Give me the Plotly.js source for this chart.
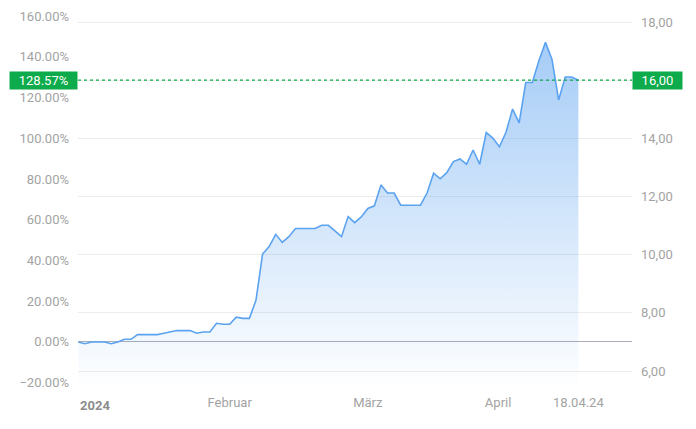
<!DOCTYPE html>
<html><head><meta charset="utf-8">
<script src="https://cdn.plot.ly/plotly-3.0.1.min.js"></script>
<style>html,body{margin:0;padding:0;background:#fff}#chart{width:696px;height:429px}</style>
</head><body><div id="chart"></div>
<script>
// Trading days shown on the chart
const tradingDates = [
  '2024-01-01','2024-01-02','2024-01-03','2024-01-04','2024-01-05','2024-01-08','2024-01-09','2024-01-10','2024-01-11','2024-01-12',
  '2024-01-15','2024-01-16','2024-01-17','2024-01-18','2024-01-19','2024-01-22','2024-01-23','2024-01-24','2024-01-25','2024-01-26',
  '2024-01-29','2024-01-30','2024-01-31',
  '2024-02-01','2024-02-02','2024-02-05','2024-02-06','2024-02-07','2024-02-08','2024-02-09','2024-02-12','2024-02-13','2024-02-14',
  '2024-02-15','2024-02-16','2024-02-19','2024-02-20','2024-02-21','2024-02-22','2024-02-23','2024-02-26','2024-02-27','2024-02-28','2024-02-29',
  '2024-03-01','2024-03-04','2024-03-05','2024-03-06','2024-03-07','2024-03-08','2024-03-11','2024-03-12','2024-03-13','2024-03-14',
  '2024-03-15','2024-03-18','2024-03-19','2024-03-20','2024-03-21','2024-03-22','2024-03-25','2024-03-26','2024-03-27','2024-03-28',
  '2024-04-02','2024-04-03','2024-04-04','2024-04-05','2024-04-08','2024-04-09','2024-04-10','2024-04-11','2024-04-12',
  '2024-04-15','2024-04-16','2024-04-17','2024-04-18'
];
// Closing prices (right axis, EUR)
const closePrices = [
  7.00,6.94,7.00,7.00,7.00,6.94,7.00,7.09,7.09,7.25,
  7.25,7.25,7.25,7.30,7.34,7.39,7.39,7.39,7.30,7.34,
  7.34,7.64,7.61,
  7.61,7.85,7.81,7.81,8.43,10.02,10.28,10.70,10.42,10.62,
  10.90,10.90,10.90,10.90,11.01,11.01,10.82,10.62,11.31,11.10,11.30,
  11.59,11.68,12.40,12.12,12.12,11.70,11.70,11.70,11.70,12.12,
  12.80,12.61,12.82,13.20,13.29,13.11,13.60,13.11,14.20,14.01,
  13.71,14.21,15.01,14.53,15.92,15.92,16.67,17.30,16.70,
  15.32,16.11,16.11,16.00
];
const pctTicks = [-20,0,20,40,60,80,100,120,140,160];
const priceTicks = [6,8,10,12,14,16,18];
const monthTickDates = ['2024-02-01','2024-03-01','2024-04-01'];
const monthTickLabels = ['Februar','März','April'];
const yearLabel = '2024';
const lastDateLabel = '18.04.24';

const green = '#0dab4b';
const tickGray = '#a3a3a3';
const FONT = 'Roboto, "Liberation Sans", Arial, sans-serif';

const basePrice = closePrices[0];
const lastPrice = closePrices[closePrices.length - 1];
const lastPct = (lastPrice / basePrice - 1) * 100;

const priceRange = [5.347, 18.413];
const pctRange = priceRange.map(p => (p / basePrice - 1) * 100);

function catPos(d) {
  const t = Date.parse(d);
  for (let i = 0; i < tradingDates.length; i++) {
    const ti = Date.parse(tradingDates[i]);
    if (ti >= t) {
      if (i === 0 || ti === t) return i;
      const tp = Date.parse(tradingDates[i - 1]);
      return i - (ti - t) / (ti - tp);
    }
  }
  return tradingDates.length - 1;
}

const xTickVals = monthTickDates.map(catPos).concat([tradingDates.length - 1]);
const xTickText = monthTickLabels.concat([lastDateLabel]);

const fmtPct = v => (v < 0 ? '\u2212' : '') + Math.abs(v).toFixed(2) + '%';
const fmtPrice = v => v.toFixed(2).replace('.', ',');
// the tick label hidden behind the last-price badge is left blank
const priceTickText = priceTicks.map(v => Math.abs(v - lastPrice) < 0.3 ? '' : fmtPrice(v));

const traces = [
  {
    x: [tradingDates[0]], y: [0], yaxis: 'y', type: 'scatter', mode: 'markers',
    marker: {opacity: 0}, hoverinfo: 'skip', showlegend: false
  },
  {
    x: tradingDates, y: closePrices, yaxis: 'y2', type: 'scatter', mode: 'lines',
    line: {color: '#5ba3f0', width: 1.6},
    fill: 'tozeroy',
    fillgradient: {
      type: 'vertical',
      start: priceRange[0],
      stop: Math.max(...closePrices),
      colorscale: [[0, 'rgba(92,162,240,0)'], [1, 'rgba(92,162,240,0.55)']]
    },
    hoverinfo: 'skip', showlegend: false
  }
];

const layout = {
  width: 696, height: 429,
  margin: {l: 78, r: 64, t: 10, b: 39},
  paper_bgcolor: '#fff', plot_bgcolor: '#fff',
  showlegend: false,
  font: {family: FONT, size: 13, color: tickGray},
  xaxis: {
    type: 'category',
    range: [-0.05, 84.15],
    tickmode: 'array', tickvals: xTickVals, ticktext: xTickText,
    showgrid: false, zeroline: false, showline: false, ticks: '',
    ticklabelstandoff: 3,
    tickfont: {family: FONT, size: 13, color: tickGray}
  },
  yaxis: {
    range: pctRange,
    tickmode: 'array', tickvals: pctTicks, ticktext: pctTicks.map(fmtPct),
    showgrid: false, zeroline: true, zerolinecolor: '#a9adba', zerolinewidth: 1,
    showline: false, ticks: '',
    ticklabelstandoff: 8,
    tickfont: {family: FONT, size: 13, color: tickGray}
  },
  yaxis2: {
    overlaying: 'y', side: 'right',
    range: priceRange,
    tickmode: 'array', tickvals: priceTicks, ticktext: priceTickText,
    showgrid: true, gridcolor: '#ececec', gridwidth: 1,
    zeroline: false, showline: false, ticks: '',
    ticklabelstandoff: 8,
    tickfont: {family: FONT, size: 13, color: tickGray}
  },
  shapes: [
    {type: 'line', xref: 'paper', x0: 0, x1: 1, yref: 'y2', y0: lastPrice, y1: lastPrice,
     line: {color: green, width: 1.3, dash: 'dot'}}
  ],
  annotations: [
    {xref: 'x', x: tradingDates[0], xanchor: 'left', yref: 'paper', y: 0, yanchor: 'top', yshift: -6,
     text: '<b>' + yearLabel + '</b>', showarrow: false,
     font: {family: FONT, size: 13, color: '#8c8c8c'}},
    {xref: 'paper', x: 0, xanchor: 'right', yref: 'y2', y: lastPrice, yanchor: 'middle',
     text: lastPct.toFixed(2) + '%', showarrow: false, bgcolor: green, borderpad: 1,
     width: 65, height: 15, align: 'center', valign: 'middle',
     font: {family: FONT, size: 13, color: '#ffffff'}},
    {xref: 'paper', x: 1, xanchor: 'left', yref: 'y2', y: lastPrice, yanchor: 'middle',
     text: fmtPrice(lastPrice), showarrow: false, bgcolor: green, borderpad: 1,
     width: 47, height: 15, align: 'center', valign: 'middle',
     font: {family: FONT, size: 13, color: '#ffffff'}}
  ]
};

Plotly.newPlot('chart', traces, layout, {staticPlot: true, displayModeBar: false});
</script>
</body></html>
